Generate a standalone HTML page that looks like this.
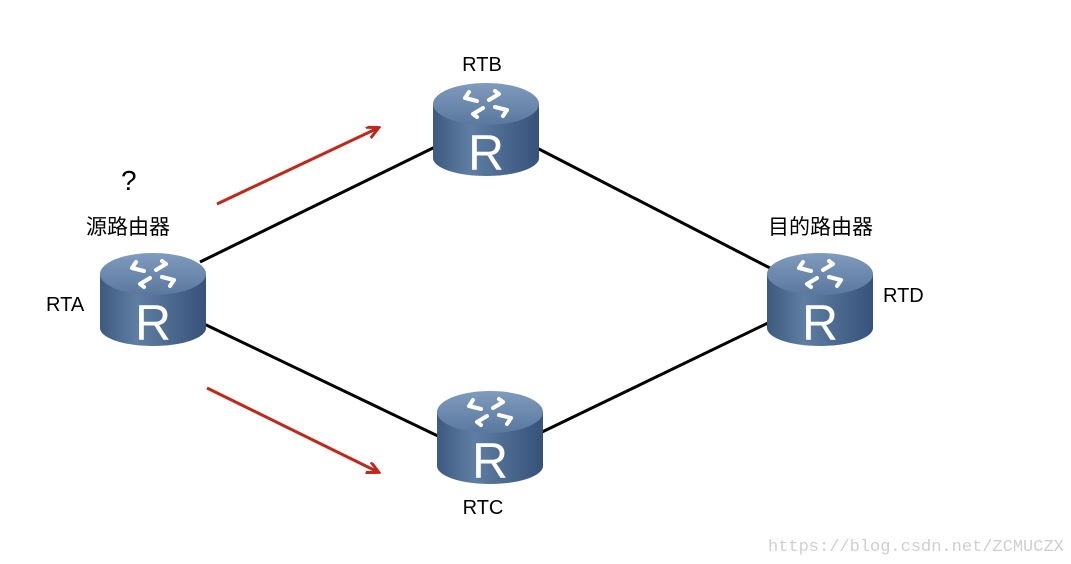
<!DOCTYPE html>
<html><head><meta charset="utf-8"><style>
html,body{margin:0;padding:0;background:#fff;}
svg{display:block;}
text{font-family:"Liberation Sans","Noto Sans CJK SC",sans-serif;fill:#000;}
</style></head><body>
<svg width="1071" height="564" viewBox="0 0 1071 564" xmlns="http://www.w3.org/2000/svg">
<defs>
<linearGradient id="side" x1="0" x2="1" y1="0" y2="0">
<stop offset="0" stop-color="#3d5a7e"/><stop offset="0.35" stop-color="#5f7ea3"/><stop offset="1" stop-color="#36527a"/>
</linearGradient>
<linearGradient id="top" x1="0" x2="0" y1="0" y2="1">
<stop offset="0" stop-color="#7f9bbd"/><stop offset="1" stop-color="#5a789f"/>
</linearGradient>
<g id="r">
<path d="M0,22 L0,76 A53,18 0 0 0 106,76 L106,22 Z" fill="url(#side)"/>
<ellipse cx="53" cy="22" rx="53" ry="21" fill="url(#top)"/>
<g stroke="#fff" stroke-width="4" fill="none" stroke-linecap="round">
<path d="M32,16 L44,19 M32,16 L36,10"/>
<path d="M74,28 L62,25 M74,28 L70,34"/>
<path d="M40,32 L50,26 M40,32 L44,35"/>
<path d="M66,12 L56,18 M66,12 L62,9"/>
</g>
<text x="53" y="88" text-anchor="middle" font-size="50" style="fill:#fff">R</text>
</g>
<marker id="ah" markerWidth="14" markerHeight="14" refX="11" refY="6" orient="auto" markerUnits="userSpaceOnUse">
<path d="M0,0 L12,6 L0,12" fill="none" stroke="#c0281c" stroke-width="3"/>
</marker>
</defs>
<g stroke="#000" stroke-width="3">
<line x1="200" y1="262" x2="435" y2="147"/>
<line x1="535" y1="147" x2="770" y2="268"/>
<line x1="200" y1="322" x2="440" y2="437"/>
<line x1="540" y1="433" x2="770" y2="322"/>
</g>
<g stroke="#c0281c" stroke-width="3">
<line x1="217" y1="204" x2="378" y2="128" marker-end="url(#ah)"/>
<line x1="207" y1="388" x2="378" y2="472" marker-end="url(#ah)"/>
</g>
<use href="#r" x="100" y="252"/>
<use href="#r" x="433" y="82"/>
<use href="#r" x="437" y="390"/>
<use href="#r" x="767" y="252"/>
<text x="482" y="71" font-size="20" text-anchor="middle">RTB</text>
<text x="121" y="190" font-size="28">?</text>
<text x="86" y="234" font-size="21">源路由器</text>
<text x="46" y="311" font-size="20">RTA</text>
<text x="768" y="234" font-size="21">目的路由器</text>
<text x="883" y="302" font-size="20">RTD</text>
<text x="483" y="514" font-size="20" text-anchor="middle">RTC</text>
<text x="768" y="551" font-size="17" style="fill:#cfcfcf;font-family:'Liberation Mono',monospace">https://blog.csdn.net/ZCMUCZX</text>
</svg>
</body></html>
